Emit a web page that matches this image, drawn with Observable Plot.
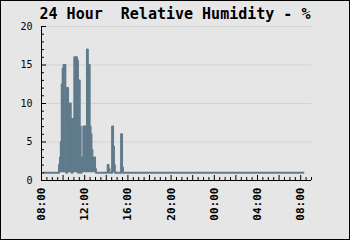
<!DOCTYPE html>
<html><head><meta charset="utf-8">
<script src="https://cdn.jsdelivr.net/npm/d3@7"></script>
<script src="https://cdn.jsdelivr.net/npm/@observablehq/plot@0.6"></script>
<style>
html,body{margin:0;padding:0;background:#e6e6e6;}
#wrap{position:relative;width:350px;height:240px;background:#e6e6e6;outline:1px solid #000;outline-offset:-1px;overflow:hidden;}
#title{height:22px;font:bold 15px "DejaVu Sans Mono",monospace;text-align:center;line-height:15px;padding-top:7px;box-sizing:border-box;color:#000;white-space:pre;}
#chart svg{display:block;background:transparent;}
</style></head><body>
<div id="wrap"><div id="title">24 Hour  Relative Humidity - %</div><div id="chart"></div></div>
<script>
const times = ["08:10",
  "09:35","09:40","09:45","09:50","09:55","10:00","10:05","10:10","10:15","10:20",
  "10:25","10:30","10:35","10:40","10:45","10:50","10:55","11:00","11:05","11:10",
  "11:15","11:20","11:25","11:30","11:35","11:40","11:45","11:50","11:55","12:00",
  "12:05","12:10","12:15","12:20","12:25","12:30","12:35","12:40","12:45","12:50",
  "12:55","13:00","13:05",
  "14:05","14:10","14:15","14:20","14:30","14:35","14:40","14:45","14:50",
  "15:20","15:25","15:30","15:35","08:15"];
const humidity = [1,
  1,2,3,5,12.5,14.5,15,15,7,1,
  12,10,2.5,10,8,1,8,2,16,16,
  16,15.6,1,13,7,1,3,3,7,3,
  7,3,17,13,15,7,6,4,3,3,
  3,1.5,1,
  1,2,1.5,1,1,7,4.4,2,1,
  1,6,1.7,1,1];
const baseValue = 1;
const xTickLabels = ["08:00","12:00","16:00","20:00","00:00","04:00","08:00"];
const yTickValues = [0,5,10,15,20];
const gridValues = [5,10,15,20];

// hours since 08:00, rolling over midnight
let day = 0, prev = -1;
const data = times.map((t, i) => {
  const [H, M] = t.split(":").map(Number);
  let h = H + M / 60 - 8;
  if (h < 0) h += 24;
  if (h + day * 24 < prev) day++;
  const x = h + day * 24;
  prev = x;
  return {x, y: humidity[i]};
});

const xMax = 25;
const plotW = 270, plotH = 154;
const xMinor = d3.range(0, xMax + 0.001, 0.5).filter(v => v % 2 !== 0);
const xMajor = d3.range(0, xMax + 0.001, 2);
const yMinor = d3.range(0, 21).filter(v => v % 5 !== 0);
const yMajor = yTickValues;
const xLabelPos = xTickLabels.map((_, i) => i * 4);
const col = "#5f7a8b";

const chart = Plot.plot({
  width: 350, height: 218,
  marginTop: 4, marginBottom: 60, marginLeft: 41, marginRight: 39,
  style: {background: "transparent", fontFamily: "DejaVu Sans Mono, monospace", color: "#000"},
  x: {type: "linear", domain: [0, xMax], axis: null},
  y: {domain: [0, 20], axis: null},
  marks: [
    Plot.ruleY(gridValues, {stroke: "#d3d3d3", strokeWidth: 1}),
    Plot.areaY(data, {x: "x", y1: baseValue, y2: "y", fill: col, curve: "step"}),
    Plot.line(data, {x: "x", y: "y", stroke: col, strokeWidth: 2, curve: "step"}),
    Plot.tickX(xMinor, {x: d => d, stroke: "#000", insetTop: plotH - 3}),
    Plot.tickX(xMajor, {x: d => d, stroke: "#000", insetTop: plotH - 5}),
    Plot.tickY(yMinor, {y: d => d, stroke: "#000", insetRight: plotW - 3}),
    Plot.tickY(yMajor, {y: d => d, stroke: "#000", insetRight: plotW - 5}),
    Plot.ruleX([0], {y1: 0, y2: 20, stroke: "#000"}),
    Plot.ruleY([0], {x1: 0, x2: xMax, stroke: "#000"}),
    Plot.axisX(xLabelPos, {tickSize: 0, tickPadding: 7, tickRotate: -90, label: null,
      tickFormat: d => xTickLabels[Math.round(d / 4)], fontSize: 11, fontWeight: "bold", fill: "#000"}),
    Plot.axisY(yTickValues, {tickSize: 0, tickPadding: 9, label: null, fontSize: 10, fill: "#000"})
  ]
});
document.getElementById("chart").appendChild(chart);
</script>
</body></html>
